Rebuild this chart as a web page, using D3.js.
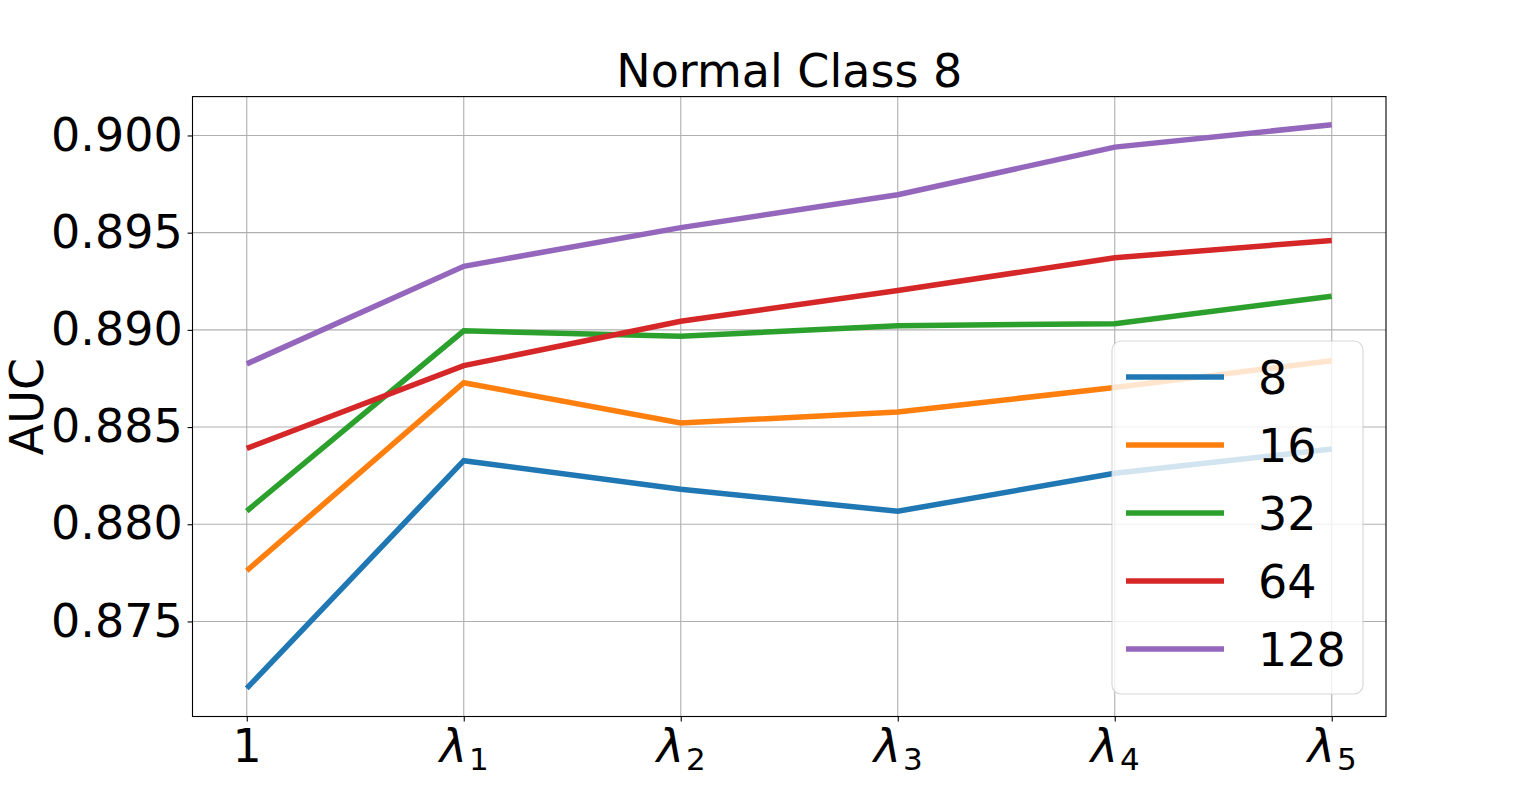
<!DOCTYPE html>
<html>
<head>
    <meta charset="utf-8">
    <title>Normal Class 8</title>
    <script src="https://cdnjs.cloudflare.com/ajax/libs/d3/7.8.5/d3.min.js"></script>
    <style>
        body {
            margin: 0;
            background: white;
        }
        svg text {
            font-family: "DejaVu Sans", sans-serif;
            fill: black;
        }
    </style>
</head>
<body>
    <svg id="chart"></svg>

    <script>
        // x categories: "1" then lambda_1..lambda_5 (subscript kept separately)
        const xLabels = ['1', 'λ1', 'λ2', 'λ3', 'λ4', 'λ5'];
        const xBase = ['1', 'λ', 'λ', 'λ', 'λ', 'λ'];
        const xSub = ['', '1', '2', '3', '4', '5'];

        const seriesNames = ['8', '16', '32', '64', '128'];
        const seriesColors = ['#1f77b4', '#ff7f0e', '#2ca02c', '#d62728', '#9467bd'];

        // AUC values
        const auc8 = [0.87156, 0.88327, 0.88180, 0.88067, 0.88262, 0.88387];
        const auc16 = [0.87761, 0.88728, 0.88521, 0.88577, 0.88704, 0.88841];
        const auc32 = [0.88068, 0.88995, 0.88967, 0.89021, 0.89032, 0.89173];
        const auc64 = [0.88390, 0.88816, 0.89044, 0.89202, 0.89371, 0.89460];
        const auc128 = [0.88825, 0.89327, 0.89526, 0.89695, 0.89940, 0.90055];

        const yTicks = [0.875, 0.880, 0.885, 0.890, 0.895, 0.900];

        const allSeries = [auc8, auc16, auc32, auc64, auc128];

        const width = 1540;
        const height = 805;
        const margin = {left: 192.5, right: 154, top: 96.6, bottom: 88.5};
        const plotW = width - margin.left - margin.right;
        const plotH = height - margin.top - margin.bottom;
        const fs = 46;

        const svg = d3.select('#chart')
            .attr('width', width)
            .attr('height', height);

        const g = svg.append('g')
            .attr('transform', `translate(${margin.left},${margin.top})`);

        // matplotlib-like 5% margins
        const x = d3.scaleLinear()
            .domain([-0.25, xLabels.length - 1 + 0.25])
            .range([0, plotW]);

        const yMin = d3.min(allSeries, s => d3.min(s));
        const yMax = d3.max(allSeries, s => d3.max(s));
        const pad = (yMax - yMin) * 0.05;
        const y = d3.scaleLinear()
            .domain([yMin - pad, yMax + pad])
            .range([plotH, 0]);

        // grid
        g.append('g')
            .selectAll('line')
            .data(yTicks)
            .join('line')
            .attr('x1', 0)
            .attr('x2', plotW)
            .attr('y1', d => y(d))
            .attr('y2', d => y(d))
            .attr('stroke', '#b0b0b0')
            .attr('stroke-width', 1.1);

        g.append('g')
            .selectAll('line')
            .data(d3.range(xLabels.length))
            .join('line')
            .attr('x1', d => x(d))
            .attr('x2', d => x(d))
            .attr('y1', 0)
            .attr('y2', plotH)
            .attr('stroke', '#b0b0b0')
            .attr('stroke-width', 1.1);

        // y axis
        const yAxis = g.append('g')
            .call(d3.axisLeft(y)
                .tickValues(yTicks)
                .tickFormat(d3.format('.3f'))
                .tickSize(4.9)
                .tickPadding(4.9));
        yAxis.select('.domain').remove();
        yAxis.selectAll('line').attr('stroke', 'black').attr('stroke-width', 1.1);
        yAxis.selectAll('text')
            .style('font-size', fs + 'px')
            .style('font-family', '"DejaVu Sans", sans-serif')
            .attr('fill', 'black');

        // x axis
        const xAxis = g.append('g')
            .attr('transform', `translate(0,${plotH})`)
            .call(d3.axisBottom(x)
                .tickValues(d3.range(xLabels.length))
                .tickFormat('')
                .tickSize(4.9));
        xAxis.select('.domain').remove();
        xAxis.selectAll('line').attr('stroke', 'black').attr('stroke-width', 1.1);

        const xt = xAxis.selectAll('g.tick')
            .append('text')
            .attr('y', 45)
            .attr('text-anchor', 'middle')
            .style('font-size', fs + 'px');
        xt.append('tspan')
            .attr('font-style', (d, i) => xSub[i] ? 'italic' : 'normal')
            .text((d, i) => xBase[i]);
        xt.append('tspan')
            .attr('dx', 2)
            .attr('dy', 8)
            .style('font-size', '31px')
            .text((d, i) => xSub[i]);

        // lines
        const line = d3.line()
            .x((d, i) => x(i))
            .y(d => y(d));

        g.append('g')
            .selectAll('path')
            .data(allSeries)
            .join('path')
            .attr('d', line)
            .attr('fill', 'none')
            .attr('stroke', (d, i) => seriesColors[i])
            .attr('stroke-width', 5.5)
            .attr('stroke-linejoin', 'miter')
            .attr('stroke-linecap', 'butt');

        // frame
        g.append('rect')
            .attr('width', plotW)
            .attr('height', plotH)
            .attr('fill', 'none')
            .attr('stroke', 'black')
            .attr('stroke-width', 1.1);

        // title and axis label
        svg.append('text')
            .attr('x', margin.left + plotW / 2)
            .attr('y', 87)
            .attr('text-anchor', 'middle')
            .style('font-size', fs + 'px')
            .text('Normal Class 8');

        svg.append('text')
            .attr('transform', `translate(43,${margin.top + plotH / 2}) rotate(-90)`)
            .attr('text-anchor', 'middle')
            .style('font-size', fs + 'px')
            .text('AUC');

        // legend (lower right, semi-transparent like matplotlib)
        const legend = svg.append('g')
            .attr('transform', 'translate(1112,341)');

        legend.append('rect')
            .attr('width', 251)
            .attr('height', 353)
            .attr('rx', 9)
            .attr('fill', 'white')
            .attr('fill-opacity', 0.8)
            .attr('stroke', '#cccccc')
            .attr('stroke-opacity', 0.8)
            .attr('stroke-width', 1.1);

        const item = legend.selectAll('g.item')
            .data(seriesNames)
            .join('g')
            .attr('class', 'item')
            .attr('transform', (d, i) => `translate(0,${36 + i * 68})`);

        item.append('line')
            .attr('x1', 14)
            .attr('x2', 112)
            .attr('stroke', (d, i) => seriesColors[i])
            .attr('stroke-width', 5.5);

        item.append('text')
            .attr('x', 146)
            .attr('y', 16.5)
            .style('font-size', fs + 'px')
            .text(d => d);
    </script>
</body>
</html>
